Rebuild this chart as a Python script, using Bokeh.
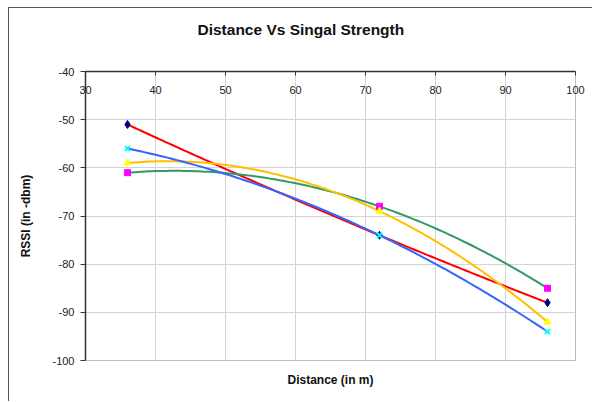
import numpy as np
from bokeh.plotting import figure
from bokeh.models import (Range1d, LinearAxis, FixedTicker, Title)
from bokeh.embed import file_html
from bokeh.resources import INLINE

# ---- data ----
distance = [36, 72, 96]
series_a = [-51, -74, -88]   # navy diamonds, red trend
series_b = [-61, -68, -85]   # magenta squares, green trend
series_c = [-59, -69, -92]   # yellow triangles, gold trend
series_d = [-56, -74, -94]   # cyan crosses, blue trend

x_ticks = [30, 40, 50, 60, 70, 80, 90, 100]
y_ticks = [-40, -50, -60, -70, -80, -90, -100]
y_tick_labels = ["-40", "-50", "-60", "-70", "-80", "-90", "-100"]

FONT = "Liberation Sans"

p = figure(width=584, height=394, output_backend="svg", toolbar_location=None,
           x_range=Range1d(30, 100), y_range=Range1d(-100, -40),
           x_axis_location="above",
           min_border_left=76, min_border_right=18, min_border_top=63, min_border_bottom=42,
           background_fill_color="white", border_fill_color="white")

# outer chart border (only the top and left edges are visible in the reference)
p.styles = {"margin-left": "8px", "margin-top": "7px",
            "border-left": "1px solid #555555", "border-top": "1px solid #555555"}

p.outline_line_color = "#bdbdbd"
p.outline_line_width = 1

# grids
p.xgrid.ticker = FixedTicker(ticks=x_ticks)
p.ygrid.ticker = FixedTicker(ticks=y_ticks)
for g in (p.xgrid, p.ygrid):
    g.grid_line_color = "#d4d4d4"
    g.grid_line_width = 1

# top x axis
xa = p.xaxis[0]
xa.ticker = FixedTicker(ticks=x_ticks)
xa.axis_line_color = "#333333"
xa.axis_line_width = 1.5
xa.major_tick_line_color = "#333333"
xa.major_tick_in = 4
xa.major_tick_out = 0
xa.minor_tick_line_color = None
xa.major_label_standoff = -22
xa.major_label_text_font = FONT
xa.major_label_text_font_size = "11px"
xa.major_label_text_color = "#222222"

# left y axis
ya = p.yaxis[0]
ya.ticker = FixedTicker(ticks=y_ticks)
ya.major_label_overrides = {t: l for t, l in zip(y_ticks, y_tick_labels)}
ya.axis_line_color = "#333333"
ya.axis_line_width = 1.5
ya.major_tick_line_color = "#333333"
ya.major_tick_in = 0
ya.major_tick_out = 5
ya.minor_tick_line_color = None
ya.major_label_standoff = 6
ya.major_label_text_font = FONT
ya.major_label_text_font_size = "11px"
ya.major_label_text_color = "#222222"
ya.axis_label = "RSSI (in -dbm)"
ya.axis_label_text_font = FONT
ya.axis_label_text_font_size = "12px"
ya.axis_label_text_font_style = "bold"
ya.axis_label_text_color = "#111111"
ya.axis_label_standoff = 16

# bottom axis used only for its title
xb = LinearAxis(ticker=FixedTicker(ticks=[]), axis_line_color=None,
                major_tick_line_color=None, minor_tick_line_color=None,
                major_tick_in=0, major_tick_out=0,
                axis_label="Distance (in m)", axis_label_text_font=FONT,
                axis_label_text_font_size="12px", axis_label_text_font_style="bold",
                axis_label_text_color="#111111", axis_label_standoff=12)
p.add_layout(xb, "below")

# empty spacer between the top axis and the chart title
p.add_layout(Title(text=" ", text_font_size="1px", standoff=31), "above")

# title
p.title = Title(text="Distance Vs Singal Strength", align="left", offset=112,
                text_font=FONT, text_font_size="15.5px", text_font_style="bold",
                text_color="#111111", standoff=0)

# trend lines (order-2 polynomial, as in the original spreadsheet chart)
trend_colors = ["#ff0000", "#339966", "#ffc000", "#3366ff"]
all_series = [series_a, series_b, series_c, series_d]
xs = np.linspace(min(distance), max(distance), 120)
for ser, col in zip(all_series, trend_colors):
    coef = np.polyfit(distance, ser, 2)
    p.line(xs, np.polyval(coef, xs), line_color=col, line_width=2)

# markers
p.scatter(distance, series_a, marker="diamond", size=8, fill_color="#000080", line_color="#000080")
p.scatter(distance, series_b, marker="square", size=6, fill_color="#ff00ff", line_color="#ff00ff")
p.scatter(distance, series_c, marker="triangle", size=7, fill_color="#ffff00", line_color="#ffff00")
p.scatter(distance, series_d, marker="x", size=7, line_color="#00ffff", line_width=2)

open("out.html", "w").write(file_html(p, INLINE))
